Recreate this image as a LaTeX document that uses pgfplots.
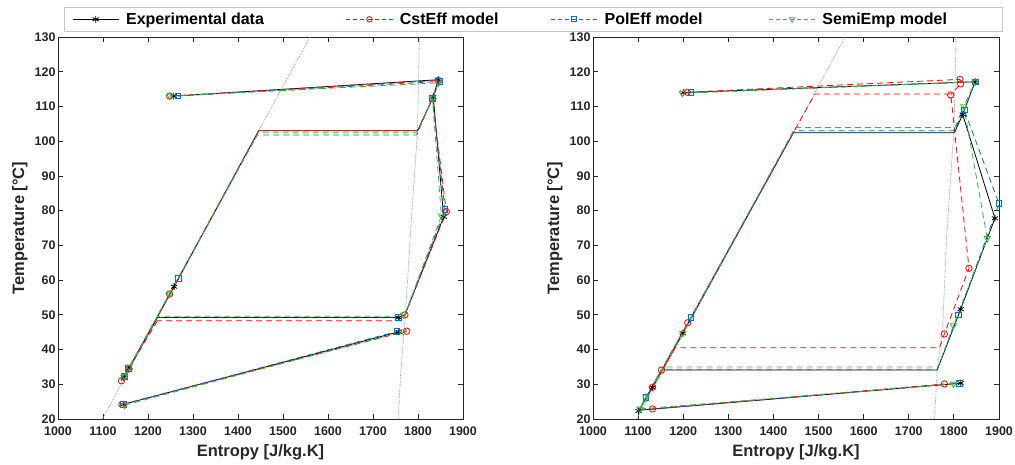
\documentclass[border=0pt]{standalone}
\usepackage{fontspec}
\setmainfont{Liberation Sans}
\usepackage{pgfplots}
\pgfplotsset{compat=1.18}
\definecolor{mblue}{HTML}{0072BD}
\definecolor{mred}{HTML}{FF0000}
\definecolor{mgreen}{HTML}{3CB43C}
\definecolor{axgray}{HTML}{262626}

\pgfplotsset{
  tsaxis/.style={
    scale only axis, height=382pt,
    xmin=1000, xmax=1900, ymin=20, ymax=130,
    xtick={1000,1100,...,1900}, ytick={20,30,...,130},
    axis line style={axgray, line width=0.8pt},
    tick style={axgray, line width=0.8pt},
    major tick length=5pt, tick align=inside,
    /pgf/number format/1000 sep={},
    /pgf/number format/assume math mode=true,
    ticklabel style={font=\bfseries\fontsize{12.5}{13}\selectfont, text=axgray},
    xticklabel style={yshift=-4pt},
    yticklabel style={xshift=1pt},
    xlabel={Entropy [J/kg.K]}, ylabel={Temperature [°C]},
    label style={font=\bfseries\fontsize{16.5}{18}\selectfont, text=axgray},
    xlabel style={at={(axis description cs:0.5,-0.0864)}, anchor=center},
    ylabel style={at={(axis description cs:-0.094,0.5)}, anchor=center},
    unbounded coords=jump,
    every axis plot/.append style={line width=0.8pt},
  },
  dome/.style={densely dotted, gray!75, line width=0.8pt, forget plot},
  exp/.style={black, solid, forget plot},
  cst/.style={mred, dash pattern=on 6pt off 4pt, forget plot},
  pol/.style={mblue, dash pattern=on 6pt off 4pt, forget plot},
  semi/.style={mgreen, dash pattern=on 6pt off 4pt, forget plot},
  expm/.style={black, only marks, mark=asterisk, mark size=3.5pt, forget plot},
  cstm/.style={mred, only marks, mark=o, mark size=3.2pt, forget plot},
  polm/.style={mblue, only marks, mark=square, mark size=2.8pt, forget plot},
  semim/.style={mgreen, only marks, mark=triangle, mark size=3.6pt, mark options={rotate=180}, forget plot},
}

\begin{document}
\begin{tikzpicture}
\path[use as bounding box] (0,0) rectangle (1015pt,464pt);

% ---------- left panel ----------
\begin{axis}[tsaxis, at={(58pt,45pt)}, anchor=south west, width=405pt,
  legend image code/.code={\draw[mark repeat=2,mark phase=2] plot coordinates {(0pt,0pt) (23pt,0pt) (46pt,0pt)};},
  legend style={at={(0.01481,1.07853)}, anchor=north west, draw=gray!45, line width=0.6pt,
    fill=white, legend columns=4, inner xsep=8pt, inner ysep=5.5pt,
    font=\bfseries\fontsize{16}{18}\selectfont, nodes={inner sep=0pt},
    /tikz/every odd column/.append style={column sep=7pt}},
]
\addlegendimage{black, solid, line width=0.8pt, mark=asterisk, mark size=3.5pt}
\addlegendentry{\makebox[220pt][l]{Experimental data}}
\addlegendimage{mred, dash pattern=on 4pt off 3pt, line width=0.8pt, mark=o, mark size=2.8pt, mark options={solid}}
\addlegendentry{\makebox[151pt][l]{CstEff model}}
\addlegendimage{mblue, dash pattern=on 4pt off 3pt, line width=0.8pt, mark=square, mark size=2.5pt, mark options={solid}}
\addlegendentry{\makebox[164pt][l]{PolEff model}}
\addlegendimage{mgreen, dash pattern=on 4pt off 3pt, line width=0.8pt, mark=triangle, mark size=3pt, mark options={solid, rotate=180}}
\addlegendentry{\makebox[172pt][l]{SemiEmp model}}

\addplot[dome] coordinates {(1099,20) (1446,103) (1560,130)};
\addplot[dome] coordinates {(1756,20) (1762,34) (1772,50) (1784,75) (1799,103) (1803,130)};

\addplot[exp] coordinates {
 (1257,113) (1845,117.7) (1834,112.8) (1500,nan)
 (1221,49.2) (1146,32) (1157,34.5) (1258,58.1) (1446,103) (1799,103) (1834,112.8) (1857,78.2) (1771,50) (1757,49.2) (1221,49.2) (1500,nan)
 (1145,24.2) (1757,45.1)};
\addplot[expm] coordinates {(1257,113) (1845,117.7) (1834,112.8) (1857,78.2) (1757,49.2) (1146,32) (1157,34.5) (1258,58.1) (1145,24.2) (1757,45.1)};

\addplot[cst] coordinates {
 (1248,113) (1845,117.5) (1832,112.3) (1500,nan)
 (1221,48.3) (1141,31) (1158,34.4) (1248,56) (1446,103) (1799,103) (1832,112.3) (1863,79.7) (1771,50) (1755,48.3) (1221,48.3) (1500,nan)
 (1142,24.2) (1775,45.3)};
\addplot[cstm] coordinates {(1248,113) (1845,117.5) (1832,112.3) (1863,79.7) (1771,50) (1141,31) (1158,34.4) (1248,56) (1142,24.2) (1775,45.3)};

\addplot[pol] coordinates {
 (1266,113) (1848,117.2) (1832,112.3) (1500,nan)
 (1221,49.3) (1147,32.2) (1157,34.6) (1267,60.5) (1443,101.8) (1797,101.8) (1832,112.3) (1860,80.3) (1771,50) (1756,49.3) (1221,49.3) (1500,nan)
 (1145,24.2) (1753,45.2)};
\addplot[polm] coordinates {(1266,113) (1848,117.2) (1832,112.3) (1860,80.3) (1756,49.3) (1147,32.2) (1157,34.6) (1267,60.5) (1145,24.2) (1753,45.2)};

\addplot[semi] coordinates {
 (1249,113) (1846,116.8) (1832,112.3) (1500,nan)
 (1221,49.6) (1148,32.4) (1158,35) (1248,56) (1445,102.4) (1798,102.4) (1832,112.3) (1852,78.5) (1771,50) (1760,49.6) (1221,49.6) (1500,nan)
 (1148,24) (1768,45.2)};
\addplot[semim] coordinates {(1249,113) (1846,116.8) (1832,112.3) (1852,78.5) (1768,50) (1148,32.4) (1158,35) (1248,56) (1148,24) (1768,45.2)};
\end{axis}

% ---------- right panel ----------
\begin{axis}[tsaxis, at={(593pt,45pt)}, anchor=south west, width=406pt]
\addplot[dome] coordinates {(1097,20) (1444,102.4) (1559,130)};
\addplot[dome] coordinates {(1757,20) (1763,34) (1775,46) (1784,73) (1800,103) (1805,130)};

\addplot[exp] coordinates {
 (1200,114) (1847,117.1) (1819.5,107.7) (1500,nan)
 (1152,34.1) (1101,22.3) (1132,29.1) (1199,44.7) (1444,102.4) (1801,102.4) (1819.5,107.7) (1891,77.8) (1815,51.6) (1763,34.1) (1152,34.1) (1500,nan)
 (1101,22.5) (1815,30.3)};
\addplot[expm] coordinates {(1200,114) (1847,117.1) (1819.5,107.7) (1891,77.8) (1815,51.6) (1101,22.3) (1132,29.1) (1199,44.7) (1815,30.3)};

\addplot[cst] coordinates {
 (1209,114.1) (1813.6,117.8) (1815,116.5) (1793,113.4) (1500,nan)
 (1182,40.5) (1132,29.1) (1152,34.1) (1210,47.7) (1492,113.6) (1793,113.6) (1833.5,63.4) (1779,44.5) (1768,40.5) (1182,40.5) (1500,nan)
 (1132,22.9) (1779,30.1)};
\addplot[cstm] coordinates {(1209,114.1) (1813.6,117.8) (1815,116.5) (1793,113.3) (1833.5,63.4) (1779,44.5) (1132,29.1) (1152,34.1) (1210,47.7) (1132,22.9) (1779,30.1)};

\addplot[pol] coordinates {
 (1217,114) (1847,117.1) (1823,109) (1500,nan)
 (1152,34.3) (1103,22.6) (1117,26.2) (1217,49.2) (1446,103) (1800,103) (1823,109) (1900,82) (1810,50) (1763,34.3) (1152,34.3) (1500,nan)
 (1103,22.6) (1812,30.3)};
\addplot[polm] coordinates {(1217,114) (1847,117.1) (1823,109) (1900,82) (1810,50) (1117,26.2) (1217,49.2) (1812,30.3)};

\addplot[semi] coordinates {
 (1198,113.8) (1847,117.1) (1822,110) (1500,nan)
 (1159,35) (1104,22.9) (1117,26.2) (1199,44.7) (1448,103.9) (1802,103.9) (1822,110) (1874,72) (1799,46.9) (1765,35) (1159,35) (1500,nan)
 (1104,22.9) (1799,30.1)};
\addplot[semim] coordinates {(1198,113.8) (1847,117.1) (1822,110) (1874,72) (1799,46.9) (1104,22.9) (1117,26.2) (1199,44.7) (1799,30.1)};
\end{axis}
\end{tikzpicture}
\end{document}
